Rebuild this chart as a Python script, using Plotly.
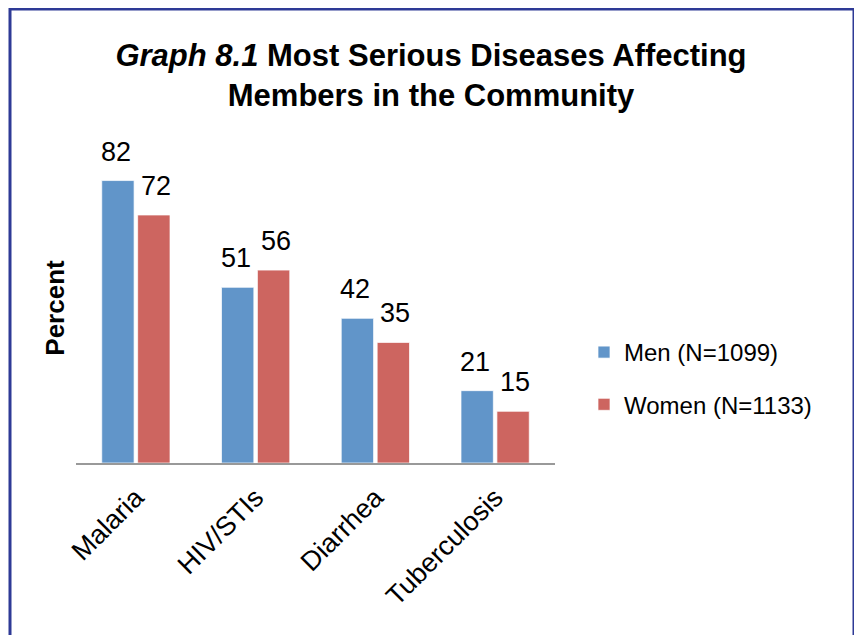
import plotly.graph_objects as go

categories = ["Malaria", "HIV/STIs", "Diarrhea", "Tuberculosis"]
men_values = [82, 51, 42, 21]
women_values = [72, 56, 35, 15]
men_name = "Men (N=1099)"
women_name = "Women (N=1133)"

FONT = "Liberation Sans, Arial, sans-serif"
BLUE = "#6195C9"
RED = "#CD6560"

W, H = 862, 635
OFF = 8  # page offset of the figure (browser body margin)
# desired page-pixel positions of the plot area
PL, PR, PT, PB = 76, 555, 153, 463
L, R, T, B = PL - OFF, W - (PR - OFF), PT - OFF, H - (PB - OFF)

fig = go.Figure()
fig.add_trace(go.Bar(
    x=categories, y=men_values, name=men_name, legendgroup="men",
    marker=dict(color=BLUE, line=dict(color="rgba(255,255,255,0.7)", width=1)),
))
fig.add_trace(go.Bar(
    x=categories, y=women_values, name=women_name, legendgroup="women",
    marker=dict(color=RED, line=dict(color="rgba(255,255,255,0.7)", width=1)),
))

# value labels above bars
annotations = []
for cat, v in zip(categories, men_values):
    annotations.append(dict(x=cat, y=v, xref="x", yref="y", text=str(v), showarrow=False,
                            xshift=-20, yshift=12, yanchor="bottom",
                            font=dict(family=FONT, size=27, color="#000")))
for cat, v in zip(categories, women_values):
    annotations.append(dict(x=cat, y=v, xref="x", yref="y", text=str(v), showarrow=False,
                            xshift=20, yshift=12, yanchor="bottom",
                            font=dict(family=FONT, size=27, color="#000")))

pw = PR - PL
ph = PB - PT
def px_x(x):
    return (x - PL) / pw
def px_y(y):
    return (PB - y) / ph

# outer blue frame (page pixel coords)
shapes = [dict(type="rect", xref="paper", yref="paper",
               x0=px_x(10), x1=px_x(854), y0=px_y(660), y1=px_y(9),
               line=dict(color="#2E3A96", width=3), fillcolor="rgba(0,0,0,0)")]

fig.update_layout(
    width=W, height=H,
    margin=dict(l=L, r=R, t=T, b=B, autoexpand=False),
    paper_bgcolor="white", plot_bgcolor="white",
    font=dict(family=FONT, color="#000"),
    barmode="group", bargap=0.4, bargroupgap=0.1,
    title=dict(
        text="<b><i>Graph 8.1</i> Most Serious Diseases Affecting<br>Members in the Community</b>",
        x=(431 - OFF) / W, xref="container", xanchor="center",
        y=1 - 58 / H, yref="container", yanchor="top",
        font=dict(family=FONT, size=31, color="#000"),
    ),
    xaxis=dict(
        showline=True, linecolor="#999999", linewidth=2,
        showgrid=False, ticks="outside", ticklen=6, tickcolor="rgba(0,0,0,0)",
        tickangle=-45, automargin=False,
        tickfont=dict(family=FONT, size=27, color="#000"),
        range=[-0.5, 3.5],
    ),
    yaxis=dict(
        range=[0, 90], showline=False, showgrid=False, zeroline=False,
        showticklabels=False, ticks="", automargin=False,
        title=dict(text="<b>Percent</b>", standoff=2,
                   font=dict(family=FONT, size=26, color="#000")),
    ),
    legend=dict(
        x=px_x(584), y=px_y(330), xanchor="left", yanchor="top",
        font=dict(family=FONT, size=24, color="#000"),
        tracegroupgap=18, traceorder="grouped", bgcolor="rgba(0,0,0,0)",
    ),
    annotations=annotations,
    shapes=shapes,
)

fig.write_html("out.html")
